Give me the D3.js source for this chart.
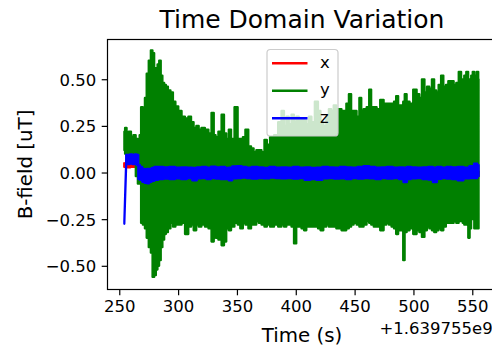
<!DOCTYPE html>
<html>
<head>
<meta charset="utf-8">
<script src="https://cdn.jsdelivr.net/npm/d3@7"></script>
<style>
  html, body { margin: 0; padding: 0; background: #fff; }
  svg { display: block; font-family: "DejaVu Sans", sans-serif; }
</style>
</head>
<body>
<svg id="chart" width="492" height="349"></svg>
<script>
// ---------------- data ----------------
const titleText = "Time Domain Variation";
const xLabelText = "Time (s)";
const yLabelText = "B-field [uT]";
const offsetText = "+1.639755e9";
const seriesNames = ["x", "y", "z"];
const xTickValues = [250, 300, 350, 400, 450, 500, 550];
const yTickValues = [-0.5, -0.25, 0, 0.25, 0.5];
const xDomain = [240, 570.5];
const yDomain = [-0.627, 0.713];

// series "x" (red) – envelope of the dense signal
const xTime = [254.2, 256, 258, 261, 263.5, 265.5, 267, 270, 280, 300, 330, 360, 400, 440, 480, 520, 555.6];
const xHigh = [0.05, 0.045, 0.04, 0.045, 0.04, 0.042, 0.015, 0.01, 0.012, 0.01, 0.012, 0.01, 0.012, 0.01, 0.012, 0.01, 0.005];
const xLow  = [0.03, 0.03, 0.028, 0.03, 0.03, 0.03, -0.01, -0.015, -0.012, -0.015, -0.012, -0.015, -0.012, -0.015, -0.012, -0.015, -0.02];

// series "y" (green) – envelope of the dense signal
const yTime = [
  254.3,255.5,257,259,261,263,265,266.5,268,269,
  271,272.5,274,276,277.6,278.9,280.5,281.8,283.2,284.6,
  286,287.4,289,290.3,292.5,294.6,296.7,298.8,301.6,304.4,
  307.3,310.1,312,314.4,316.5,318.6,321,324.6,327,329.7,
  331,332.8,335.6,338.2,339.9,342,344.1,346,349.8,351.5,
  354.1,356,358.3,361.1,363,365.4,367.5,369.6,372.2,374.5,
  376.4,379.8,383.3,386.7,389,391,393,395.2,397.5,399.4,
  401.5,403.7,406,408,410,412.2,414.5,417.8,420,422,
  424.9,427,429.2,431,433.4,435.5,437.7,440,441.9,444,
  446.2,448,450.4,453,455,456.4,458.9,461.5,463.2,465,
  467.5,470,473.4,476,478,480.2,482.5,484.4,486.1,488,
  490.4,492.1,493,495.5,498,501.5,504,506,508.3,510.5,
  512.5,514.5,516.8,518.5,520.2,522.5,524.4,526.5,528.7,530.5,
  532.9,535.5,537.2,539.7,541.4,542.3,544,545.7,547.4,548.2,
  549.9,550.8,552.5,554.8,555.4
];
const yHigh = [
  0.22,0.24,0.20,0.22,0.19,0.20,0.18,0.17,0.20,0.35,
  0.34,0.40,0.53,0.60,0.655,0.64,0.56,0.53,0.58,0.60,
  0.52,0.48,0.47,0.46,0.44,0.43,0.38,0.355,0.33,0.30,
  0.29,0.30,0.27,0.24,0.25,0.23,0.24,0.23,0.21,0.32,
  0.20,0.19,0.22,0.31,0.21,0.18,0.23,0.18,0.35,0.18,
  0.18,0.19,0.23,0.14,0.13,0.11,0.12,0.12,0.11,0.175,
  0.15,0.19,0.20,0.27,0.33,0.25,0.30,0.26,0.31,0.27,
  0.30,0.28,0.29,0.28,0.26,0.30,0.27,0.38,0.33,0.27,
  0.25,0.30,0.34,0.33,0.36,0.34,0.34,0.33,0.33,0.37,
  0.42,0.33,0.33,0.30,0.40,0.33,0.34,0.35,0.445,0.35,
  0.35,0.34,0.39,0.37,0.37,0.37,0.37,0.38,0.41,0.36,
  0.36,0.38,0.42,0.38,0.37,0.445,0.42,0.40,0.50,0.43,
  0.46,0.45,0.50,0.44,0.43,0.47,0.52,0.46,0.47,0.49,
  0.49,0.47,0.48,0.54,0.50,0.49,0.52,0.54,0.50,0.49,
  0.52,0.54,0.52,0.54,0.50
];
const yLow = [
  0.12,0.10,0.09,0.08,0.10,0.08,-0.02,-0.06,-0.05,-0.27,
  -0.28,-0.30,-0.35,-0.40,-0.43,-0.56,-0.55,-0.52,-0.50,-0.47,
  -0.40,-0.36,-0.33,-0.32,-0.30,-0.27,-0.29,-0.28,-0.28,-0.27,
  -0.33,-0.29,-0.28,-0.31,-0.28,-0.29,-0.28,-0.29,-0.30,-0.37,
  -0.34,-0.35,-0.36,-0.39,-0.37,-0.30,-0.31,-0.29,-0.27,-0.28,
  -0.30,-0.27,-0.28,-0.30,-0.28,-0.28,-0.26,-0.27,-0.28,-0.29,
  -0.28,-0.29,-0.28,-0.29,-0.28,-0.29,-0.28,-0.28,-0.29,-0.38,
  -0.29,-0.29,-0.30,-0.31,-0.29,-0.29,-0.29,-0.29,-0.30,-0.31,
  -0.29,-0.28,-0.29,-0.29,-0.29,-0.30,-0.30,-0.31,-0.31,-0.30,
  -0.29,-0.28,-0.27,-0.28,-0.29,-0.29,-0.28,-0.26,-0.27,-0.28,
  -0.29,-0.29,-0.31,-0.28,-0.27,-0.28,-0.29,-0.30,-0.33,-0.31,
  -0.31,-0.47,-0.32,-0.31,-0.30,-0.33,-0.31,-0.32,-0.345,-0.31,
  -0.29,-0.30,-0.31,-0.32,-0.31,-0.30,-0.31,-0.29,-0.27,-0.27,
  -0.27,-0.26,-0.27,-0.26,-0.26,-0.27,-0.28,-0.28,-0.35,-0.30,
  -0.21,-0.25,-0.30,-0.30,-0.30
];

// series "z" (blue) – envelope of the dense signal
const zTime = [
  254.3,256,258,260,262,264,265.5,266.8,268.5,270.5,
  272.5,274.5,276.5,278.5,281,285,290,295,300,305,
  310,314,318,322,326,330,334,338,342,344,
  348,352,356,360,365,370,375,380,385,390,
  395,400,405,410,415,420,425,430,435,440,
  445,450,455,460,465,470,475,480,485,490,
  493,496,500,505,510,515,518,522,526,530,
  535,540,545,550,553,555.4
];
const zHigh = [
  -0.26,0.095,0.095,0.098,0.095,0.098,0.095,0.04,0.03,0.02,
  0.018,0.02,0.018,0.025,0.03,0.03,0.028,0.03,0.027,0.028,
  0.026,0.025,0.028,0.03,0.026,0.032,0.028,0.03,0.025,0.027,
  0.033,0.034,0.03,0.027,0.03,0.028,0.025,0.03,0.027,0.028,
  0.027,0.03,0.026,0.028,0.025,0.027,0.03,0.028,0.026,0.03,
  0.028,0.027,0.03,0.034,0.03,0.027,0.028,0.03,0.026,0.028,
  0.027,0.03,0.028,0.026,0.028,0.03,0.027,0.03,0.026,0.03,
  0.028,0.03,0.027,0.035,0.048,0.04
];
const zLow = [
  -0.275,0.06,0.045,0.05,0.045,0.05,0.04,-0.035,-0.04,-0.05,
  -0.055,-0.058,-0.05,-0.045,-0.04,-0.035,-0.033,-0.035,-0.032,-0.035,
  -0.03,-0.042,-0.032,-0.03,-0.035,-0.03,-0.033,-0.035,-0.036,-0.042,
  -0.032,-0.03,-0.028,-0.03,-0.033,-0.03,-0.032,-0.028,-0.03,-0.032,
  -0.03,-0.033,-0.03,-0.04,-0.036,-0.04,-0.032,-0.03,-0.033,-0.031,
  -0.035,-0.03,-0.033,-0.03,-0.032,-0.035,-0.03,-0.033,-0.03,-0.035,
  -0.052,-0.035,-0.032,-0.03,-0.035,-0.038,-0.052,-0.034,-0.03,-0.033,
  -0.035,-0.042,-0.032,-0.03,-0.03,-0.02
];

// ---------------- drawing ----------------
const plot = { left: 107.5, right: 496.4, top: 39.5, bottom: 289.5 };
const svg = d3.select("#chart");

const x = d3.scaleLinear().domain(xDomain).range([plot.left, plot.right]);
const y = d3.scaleLinear().domain(yDomain).range([plot.bottom, plot.top]);

svg.append("defs").append("clipPath").attr("id", "plotclip")
  .append("rect")
  .attr("x", plot.left).attr("y", plot.top)
  .attr("width", plot.right - plot.left).attr("height", plot.bottom - plot.top);

const colors = { x: "#ff0000", y: "#008000", z: "#0000ff" };
const seriesData = {
  x: xTime.map((t, i) => ({ t, hi: xHigh[i], lo: xLow[i] })),
  y: yTime.map((t, i) => ({ t, hi: yHigh[i], lo: yLow[i] })),
  z: zTime.map((t, i) => ({ t, hi: zHigh[i], lo: zLow[i] }))
};

const areaLinear = d3.area().x(d => x(d.t)).y0(d => y(d.lo)).y1(d => y(d.hi));
const areaStep = d3.area().curve(d3.curveStep).x(d => x(d.t)).y0(d => y(d.lo)).y1(d => y(d.hi));

const gData = svg.append("g").attr("clip-path", "url(#plotclip)");
seriesNames.forEach(name => {
  const data = seriesData[name];
  const g = gData.append("g");
  // first segment (the initial jump) drawn linear, the dense part stepped
  g.append("path")
    .datum(name === "y" ? data : data.slice(0, 2))
    .attr("d", name === "y" ? areaStep : areaLinear)
    .attr("fill", colors[name]).attr("stroke", colors[name])
    .attr("stroke-width", 2.2).attr("stroke-linejoin", "round");
  if (name !== "y") {
    g.append("path")
      .datum(data.slice(1))
      .attr("d", areaStep)
      .attr("fill", colors[name]).attr("stroke", colors[name])
      .attr("stroke-width", 2.2).attr("stroke-linejoin", "round");
  }
});

// axes
const tickFont = 16.5;
const xAxis = d3.axisBottom(x).tickValues(xTickValues).tickFormat(d3.format("d"))
  .tickSize(5.8).tickPadding(4.5);
const yAxis = d3.axisLeft(y).tickValues(yTickValues).tickFormat(d3.format(".2f"))
  .tickSize(5.8).tickPadding(5.5);

const gx = svg.append("g").attr("transform", `translate(0,${plot.bottom})`).call(xAxis);
const gy = svg.append("g").attr("transform", `translate(${plot.left},0)`).call(yAxis);
[gx, gy].forEach(g => {
  g.select(".domain").remove();
  g.selectAll(".tick line").attr("stroke", "#000").attr("stroke-width", 1.2);
  g.selectAll(".tick text").attr("fill", "#000")
    .style("font-family", "DejaVu Sans").style("font-size", tickFont + "px");
});
gy.selectAll(".tick text").attr("dy", "0.36em");
gx.selectAll(".tick text").attr("dy", "0.74em");

// frame
svg.append("rect")
  .attr("x", plot.left).attr("y", plot.top)
  .attr("width", plot.right - plot.left).attr("height", plot.bottom - plot.top)
  .attr("fill", "none").attr("stroke", "#000").attr("stroke-width", 1.2);

// title & labels
svg.append("text").text(titleText)
  .attr("x", (plot.left + plot.right) / 2).attr("y", 27.8)
  .attr("text-anchor", "middle").style("font-size", "25px").attr("fill", "#000");

svg.append("text").text(xLabelText)
  .attr("x", (plot.left + plot.right) / 2).attr("y", 342)
  .attr("text-anchor", "middle").style("font-size", "19.8px").attr("fill", "#000");

svg.append("text").text(yLabelText)
  .attr("transform", `translate(32,${(plot.top + plot.bottom) / 2}) rotate(-90)`)
  .attr("text-anchor", "middle").style("font-size", "19.8px").attr("fill", "#000");

svg.append("text").text(offsetText)
  .attr("x", 379.5).attr("y", 333.5)
  .attr("text-anchor", "start").style("font-size", "16.5px").attr("fill", "#000");

// legend
const lg = svg.append("g");
lg.append("rect")
  .attr("x", 267).attr("y", 49.5).attr("width", 71).attr("height", 86.5)
  .attr("rx", 3.3).attr("ry", 3.3)
  .attr("fill", "#fff").attr("fill-opacity", 0.8)
  .attr("stroke", "#cccccc").attr("stroke-width", 1.2);
const rowY = d => 63.3 + d * 27.5;
seriesNames.forEach((name, i) => {
  lg.append("line")
    .attr("x1", 272).attr("x2", 307.5)
    .attr("y1", rowY(i)).attr("y2", rowY(i))
    .attr("stroke", colors[name]).attr("stroke-width", 2.5);
  lg.append("text").text(name)
    .attr("x", 320).attr("y", rowY(i) + 4.6)
    .style("font-size", "16.5px").attr("fill", "#000");
});
</script>
</body>
</html>
